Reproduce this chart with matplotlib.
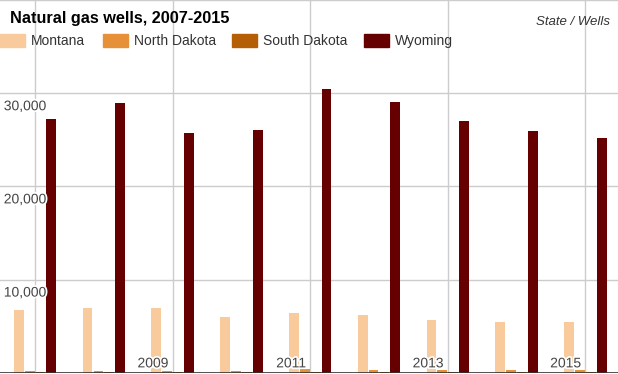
#!/usr/bin/env python3
"""Natural gas wells by state, 2007-2015, grouped bars."""
import matplotlib
matplotlib.use('Agg')
import matplotlib.pyplot as plt
import matplotlib.patches as mpatches
import matplotlib.patheffects as pe
import numpy as np

YEARS = [2007, 2008, 2009, 2010, 2011, 2012, 2013, 2014, 2015]
STATES = ['Montana', 'North Dakota', 'South Dakota', 'Wyoming']
MONTANA = [6770, 6910, 6910, 5950, 6450, 6160, 5700, 5480, 5480]
NORTH_DAKOTA = [150, 160, 180, 190, 400, 290, 330, 320, 310]
SOUTH_DAKOTA = [70, 70, 90, 100, 110, 100, 110, 110, 100]
WYOMING = [27200, 28900, 25700, 26100, 30500, 29100, 27000, 25900, 25200]
Y_TICKS = [10000, 20000, 30000]

COLORS = ['#f9cb9c', '#e69138', '#b45f06', '#660000']

plt.rcParams['font.family'] = ['Liberation Sans', 'DejaVu Sans']

fig = plt.figure(figsize=(6.18, 3.74), dpi=100)
ax = fig.add_axes([0, 0.0035, 1, 0.9965])

x = np.arange(len(YEARS))
series = [MONTANA, NORTH_DAKOTA, SOUTH_DAKOTA, WYOMING]
step = 0.158
width = 0.142
for k, (vals, color) in enumerate(zip(series, COLORS)):
    ax.bar(x + (k - 1.5) * step, vals, width=width, color=color,
           zorder=3, linewidth=0)

ax.set_xlim(-0.51, 8.475)
ax.set_ylim(0, 40000)

# grid
for yv in Y_TICKS + [40000]:
    ax.axhline(yv, color='#cccccc', lw=1, zorder=1)
for i in range(0, len(YEARS), 2):
    ax.axvline(i, color='#cccccc', lw=1, zorder=1)
ax.axhline(0, color='#333333', lw=1.2, zorder=4)

halo = [pe.withStroke(linewidth=2.5, foreground='white')]
for yv in Y_TICKS:
    ax.text(-0.455, yv - 650, f'{yv:,}', ha='left', va='top',
            fontsize=10, color='#444444', zorder=5, path_effects=halo)
for i in range(2, len(YEARS), 2):
    ax.text(i - 0.06, 250, str(YEARS[i]), ha='right', va='bottom',
            fontsize=10, color='#444444', zorder=5, path_effects=halo)

for side in ax.spines.values():
    side.set_visible(False)
ax.set_xticks([])
ax.set_yticks([])

fig.text(10 / 618, 1 - 18 / 374, 'Natural gas wells, 2007-2015',
         fontsize=11.7, fontweight='bold', ha='left', va='center')
fig.text(610 / 618, 1 - 22 / 374, 'State / Wells', fontsize=9.5,
         style='italic', ha='right', va='center', color='#333333')

# legend
patch_x = [0, 103, 232, 364]
for px, name, color in zip(patch_x, STATES, COLORS):
    fig.patches.append(mpatches.Rectangle(
        (px / 618, 1 - 47 / 374), 25 / 618, 13 / 374, color=color,
        transform=fig.transFigure, figure=fig))
    fig.text((px + 31) / 618, 1 - 41 / 374, name, fontsize=10,
             ha='left', va='center', color='#333333')

fig.savefig('out.png', dpi=100)
